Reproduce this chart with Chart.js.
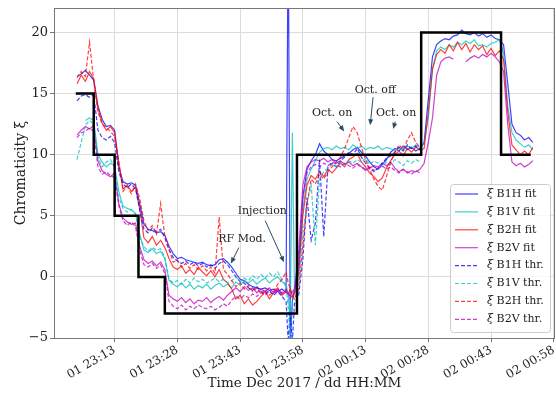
<!DOCTYPE html>
<html>
<head>
<meta charset="utf-8">
<script src="https://cdn.jsdelivr.net/npm/chart.js@4.4.0/dist/chart.umd.min.js"></script>
<style>
  html, body { margin: 0; padding: 0; background: #fff; }
  #wrap { width: 556px; height: 394px; }
</style>
</head>
<body>
<div id="wrap"><canvas id="chroma" width="556" height="394"></canvas></div>
<script>
// time axis: minutes since 01 Dec 2017 00:00
const times = [
  1384, 1385, 1386, 1387, 1388, 1389, 1390, 1391, 1392, 1393,
  1394, 1395, 1396, 1397, 1398, 1399, 1400, 1401, 1402, 1403,
  1404, 1405, 1406, 1407, 1408, 1409, 1410, 1411, 1412, 1413,
  1414, 1415, 1416, 1417, 1418, 1419, 1420, 1421, 1422, 1423,
  1424, 1425, 1426, 1427, 1428, 1429, 1430, 1431, 1432, 1433,
  1434, 1434.5, 1435, 1435.5, 1436, 1437, 1438, 1439, 1440, 1441,
  1442, 1443, 1444, 1445, 1446, 1447, 1448, 1449, 1450, 1451,
  1452, 1453, 1454, 1455, 1456, 1457, 1458, 1459, 1460, 1461,
  1462, 1463, 1464, 1465, 1466, 1467, 1468, 1469, 1470, 1471,
  1472, 1473, 1474, 1475, 1476, 1477, 1478, 1479, 1480, 1481,
  1482, 1483, 1484, 1485, 1486, 1487, 1488, 1489, 1490, 1491, 1492, 1493
];

const b1hFit = [
  16.4, 16.6, 16.9, 16.5, 16.1, 14.0, 12.9, 12.3, 12.4, 12.0,
  9.0, 7.8, 7.6, 7.7, 7.5, 6.0, 4.3, 3.9, 3.8, 3.6,
  3.7, 3.4, 2.5, 1.9, 1.5, 1.6, 1.4, 1.3, 1.2, 1.1,
  1.2, 1.0, 0.9, 1.0, 1.4, 1.5, 1.2, 0.8, 0.3, -0.2,
  -0.3, -0.6, -0.8, -0.9, -1.0, -0.9, -1.1, -1.0, -1.2, -1.0,
  -1.3, 30, -5.5, -2.0, -1.0, 1.0, 6.5, 8.8, 9.5, 10.0,
  10.9, 10.3, 10.0, 9.6, 9.5, 9.7, 9.9, 10.1, 10.4, 10.6,
  10.2, 9.9, 9.4, 9.0, 8.8, 9.2, 9.6, 10.2, 10.5, 10.3,
  10.7, 10.4, 10.6, 10.3, 10.5, 11.0, 14.5, 18.0, 19.0, 19.3,
  19.5, 19.4, 19.7, 19.8, 20.2, 19.9, 19.8, 20.0, 19.7, 19.9,
  19.6, 19.8, 19.5, 19.4, 19.0, 15.8, 12.5, 11.8, 11.6, 11.2, 11.4, 11.0
];
const b1vFit = [
  null, null, 12.8, 13.0, 12.8, 10.0, 9.4, 9.0, 9.3, 9.1,
  7.0, 5.8, 5.6, 5.5, 5.2, 3.5, 2.2, 2.0, 2.3, 1.9,
  2.1, 1.5, -0.3, -0.6, -0.8, -0.5, -0.9, -0.6, -1.0, -0.7,
  -0.9, -0.6, -1.0, -0.7, -0.5, -0.8, -0.6, -0.9, -0.4, -0.7,
  -0.3, -0.5, -0.2, -0.6, -0.3, -0.1, -0.5, -0.2, 0.0, -0.4,
  -0.6, -1.5, -3.5, 11.8, -1.0, 0.5, 5.5, 8.0, 8.8, 9.5,
  10.2, 10.5, 10.6, 10.4, 10.7, 10.5, 10.6, 10.4, 10.8, 10.5,
  10.7, 10.4, 10.6, 10.5, 10.7, 10.4, 10.6, 10.5, 10.3, 10.6,
  10.4, 10.7, 10.5, 10.8, 10.6, 10.9, 13.0, 17.0, 18.5, 18.8,
  18.6, 19.0, 18.8, 19.2, 19.0, 19.3, 19.1, 19.4, 18.9, 19.0,
  18.8, 19.1, 19.2, 19.4, 18.3, 14.0, 11.8, 11.2, 10.9, 10.6, 10.8, 10.4
];
const b2hFit = [
  15.8, 16.5, 16.0, 16.8, 16.2, 13.8, 12.6, 12.0, 12.3, 11.8,
  9.2, 7.2, 7.5, 7.0, 7.3, 5.6, 3.2, 2.8, 3.3, 2.6,
  3.0, 2.4, 1.5, 0.8, 0.6, 0.9, 0.3, 0.6, 0.2, 0.8,
  0.4, 0.1, 0.5, 0.0, 0.6, -0.2, -0.5, -1.0, -1.8, -1.5,
  -2.2, -1.8, -2.3, -2.0, -1.6, -1.2, -1.8, -1.3, -0.9, -1.5,
  -1.2, -1.4, -1.0, -1.6, -1.4, 0.2, 5.0, 7.5, 8.3, 8.0,
  8.6, 8.2, 8.8, 8.5, 8.9, 9.3, 9.0, 9.6, 9.8, 10.1,
  9.4, 9.0, 8.5, 8.2, 7.8, 8.1, 8.9, 9.5, 10.0, 10.3,
  9.9, 10.5, 10.2, 10.6, 10.4, 10.5, 13.5, 17.0, 18.2, 18.6,
  18.3, 19.0, 18.5, 19.2, 18.6, 19.1, 18.4, 19.0, 18.6, 18.9,
  18.2, 18.7, 18.1, 18.5, 17.8, 13.5, 10.8, 10.4, 10.0, 10.3, 10.0, 10.6
];
const b2vFit = [
  11.6, 12.0, 12.3, 12.1, 12.4, 9.5, 8.7, 8.4, 8.2, 8.5,
  6.0, 4.8, 4.5, 4.3, 4.4, 2.5, 1.4, 1.1, 1.3, 0.9,
  1.2, 0.6, -1.5, -1.8, -2.0, -1.7, -2.1, -1.8, -2.2, -1.9,
  -2.0, -1.7, -2.1, -1.8, -1.6, -1.9, -1.5, -1.2, -0.9, -1.2,
  -0.8, -1.1, -0.9, -1.3, -1.0, -1.2, -0.9, -1.3, -1.0, -1.4,
  -1.1, -1.3, -1.6, -1.2, -1.0, 2.0, 7.5, 9.0, 9.4, 9.6,
  9.5, 9.7, 9.4, 9.6, 9.3, 9.5, 9.2, 9.4, 9.1, 9.3,
  9.0, 8.7, 8.9, 9.1, 9.0, 9.3, 9.1, 9.4, 8.9, 8.6,
  8.8, 8.5, 8.7, 8.6, 8.8, 9.3, 11.0, 13.0, 16.5, 17.6,
  17.9, 18.0, 17.8, null, null, 17.6, 17.9, 18.1, 17.9, 18.2,
  18.0, 18.3, 18.0, 17.6, 16.8, 12.5, 9.4, 9.1, 9.3, 9.0, 9.2, 9.5
];
const b1hThr = [
  14.4, 14.8, 14.9, 14.7, 14.9, 12.0, 11.4, 11.2, 11.5, 11.0,
  8.6, 7.6, 7.3, 7.6, 7.2, 5.5, 3.9, 3.6, 4.0, 3.7,
  3.9, 3.2, 2.2, 1.6, 1.3, 1.1, 1.3, 1.0, 1.2, 0.9,
  1.1, 0.8, 1.0, 0.7, 1.1, 1.3, 1.0, 0.5, 0.0, -0.4,
  -0.5, -0.9, -1.1, -0.8, -1.2, -1.4, -1.1, -1.5, -1.2, -1.6,
  -2.0, -5.3, -3.0, -5.3, -2.2, -1.5, 1.4, 6.5, 3.0, 4.4,
  9.6, 3.3, 9.0, 9.3, 9.0, 9.5, 9.8, 10.2, 10.0, 10.5,
  9.8, 9.3, 8.9, 8.6, 8.9, 9.3, 9.7, 9.9, 10.2, 10.6,
  10.3, 10.8, 10.5, 10.7, 10.4, null, null, null, null, null,
  null, null, null, null, null, null, null, null, null, null,
  null, null, null, null, null, null, null, null, null, null, null, null
];
const b1vThr = [
  9.6, 11.0, 12.4, 12.8, 12.5, 9.8, 9.0, 9.4, 9.6, 9.0,
  6.5, 5.6, 5.3, 5.5, 5.1, 3.2, 2.5, 2.1, 2.4, 2.2,
  2.3, 1.6, -0.2, -0.5, -0.3, -0.6, -0.2, -0.5, -0.1, -0.4,
  -0.2, -0.5, -0.3, -0.1, -0.4, -0.2, -0.5, -0.3, 0.0, -0.4,
  -0.1, -0.3, 0.1, -0.2, 0.2, -0.1, 0.3, 0.0, 0.4, -0.2,
  -0.8, -2.5, -5.0, -2.0, -1.4, -0.5, 3.5, 6.0, 7.5, 2.6,
  8.0, 8.6, 8.9, 9.2, 9.0, 9.4, 9.2, 9.5, 9.3, 9.6,
  9.4, 9.7, 9.2, 9.5, 9.3, 9.0, 9.4, 9.2, 9.6, 9.4,
  9.1, 9.5, 9.3, 9.6, 9.4, null, null, null, null, null,
  null, null, null, null, null, null, null, null, null, null,
  null, null, null, null, null, null, null, null, null, null, null, null
];
const b2hThr = [
  16.3, 16.8, 16.4, 19.2, 16.0, 13.5, 12.5, 12.2, 11.9, 11.5,
  9.5, 7.0, 7.4, 6.8, 7.6, 6.4, 4.6, 3.8, 4.2, 3.5,
  6.0, 3.3, 2.3, 1.2, 1.4, 0.8, 1.1, 0.7, 1.0, 0.6,
  0.9, 0.5, 0.8, 0.3, 4.9, 0.6, 0.2, -0.3, -0.8, -0.5,
  -1.0, -0.7, -1.2, -0.9, -1.4, -1.0, -1.5, -1.2, -0.6, -0.2,
  0.4, -0.5, -1.0, -1.5, -1.8, -1.0, 2.5, 6.0, 8.0, 7.6,
  8.4, 8.0, 8.6, 9.0, 9.4, 9.8, 10.5, 11.4, 12.3, 11.8,
  10.6, 9.6, 8.8, 8.0, 7.4, 7.1, 8.2, 9.4, 10.2, 10.8,
  10.4, 11.2, 11.8, 11.0, 10.6, null, null, null, null, null,
  null, null, null, null, null, null, null, null, null, null,
  null, null, null, null, null, null, null, null, null, null, null, null
];
const b2vThr = [
  11.4, 11.8, 11.9, 12.2, 11.9, 9.0, 8.4, 8.6, 8.3, 8.1,
  5.8, 4.6, 4.2, 4.5, 4.1, 2.2, 1.0, 0.8, 1.1, 0.7,
  1.0, 0.3, -2.0, -2.4, -2.6, -2.3, -2.7, -2.4, -2.6, -2.3,
  -2.5, -2.6, -2.4, -2.7, -2.5, -2.2, -2.4, -1.9, -1.6, -1.8,
  -1.5, -1.7, -1.4, -1.6, -1.3, -1.5, -1.2, -1.4, -1.1, -1.3,
  -1.0, -1.4, -1.8, -1.5, -1.2, 0.5, 6.5, 8.5, 9.0, 9.2,
  9.0, 9.3, 9.1, 9.4, 9.2, 9.0, 9.3, 9.1, 8.9, 9.2,
  9.0, 8.8, 9.0, 8.7, 8.9, 9.1, 8.8, 9.0, 8.7, 8.5,
  8.8, 8.6, 8.4, 8.7, 8.5, null, null, null, null, null,
  null, null, null, null, null, null, null, null, null, null,
  null, null, null, null, null, null, null, null, null, null, null, null
];

// reference chromaticity settings (value holds from each time to the next)
const stepTimes = [1383.7, 1388, 1393, 1398.7, 1405, 1436.6, 1466.3, 1485.4, 1492.5];
const stepValues = [15, 10, 5, 0, -3, 10, 20, 10, 10];

const xTickValues = [1393, 1408, 1423, 1438, 1453, 1468, 1483, 1498];
const xTickLabels = ['01 23:13', '01 23:28', '01 23:43', '01 23:58', '02 00:13', '02 00:28', '02 00:43', '02 00:58'];
const yTickValues = [-5, 0, 5, 10, 15, 20];

const notes = [
  { text: 'RF Mod.',   tx: 1423.5, ty: 3.1,  ax: 1422.7, ay: 2.4,  hx: 1420.8, hy: 1.1 },
  { text: 'Injection', tx: 1428.3, ty: 5.4,  ax: 1429.0, ay: 4.6,  hx: 1433.5, hy: 1.2 },
  { text: 'Oct. on',   tx: 1445.0, ty: 13.4, ax: 1446.2, ay: 12.7, hx: 1447.9, hy: 11.9 },
  { text: 'Oct. off',  tx: 1455.3, ty: 15.3, ax: 1454.8, ay: 14.7, hx: 1454.1, hy: 12.4 },
  { text: 'Oct. on',   tx: 1460.3, ty: 13.4, ax: 1460.1, ay: 12.7, hx: 1459.6, hy: 12.1 }
];

const SERIF = '"DejaVu Serif", serif';

function pts(xs, ys) {
  return xs.map((x, i) => ({ x: x, y: ys[i] }));
}

function series(label, values, color, dashed) {
  return {
    label: label,
    data: pts(times, values),
    borderColor: color,
    borderWidth: 1.2,
    borderDash: dashed ? [4, 2] : [],
    pointRadius: 0,
    spanGaps: false,
    tension: 0
  };
}

const lineSets = [
  series('ξ B1H fit', b1hFit, 'rgba(0,0,255,0.75)', false),
  series('ξ B1V fit', b1vFit, 'rgba(0,191,191,0.75)', false),
  series('ξ B2H fit', b2hFit, 'rgba(255,0,0,0.75)', false),
  series('ξ B2V fit', b2vFit, 'rgba(191,0,191,0.75)', false),
  series('ξ B1H thr.', b1hThr, 'rgba(0,0,255,0.75)', true),
  series('ξ B1V thr.', b1vThr, 'rgba(0,191,191,0.75)', true),
  series('ξ B2H thr.', b2hThr, 'rgba(255,0,0,0.75)', true),
  series('ξ B2V thr.', b2vThr, 'rgba(191,0,191,0.75)', true)
];
// later series on top, like matplotlib
lineSets.forEach((d, i) => { d.order = 20 - i; });

const stepSet = {
  label: '',
  data: pts(stepTimes, stepValues),
  borderColor: '#000',
  borderWidth: 2.5,
  stepped: 'before',
  pointRadius: 0,
  order: 0
};

const frame = {
  id: 'frame',
  afterDatasetsDraw(chart) {
    const { ctx, chartArea: a } = chart;
    ctx.save();
    ctx.strokeStyle = '#777';
    ctx.lineWidth = 1;
    ctx.strokeRect(a.left + 0.5, a.top + 0.5, a.right - a.left - 1, a.bottom - a.top);
    ctx.restore();
  }
};

const arrows = {
  id: 'arrows',
  afterDatasetsDraw(chart) {
    const { ctx } = chart;
    const xs = chart.scales.x, ys = chart.scales.y;
    ctx.save();
    notes.forEach(n => {
      ctx.font = '11px ' + SERIF;
      ctx.fillStyle = '#222';
      ctx.textAlign = 'center';
      ctx.textBaseline = 'middle';
      ctx.fillText(n.text, xs.getPixelForValue(n.tx), ys.getPixelForValue(n.ty));
      const x1 = xs.getPixelForValue(n.ax), y1 = ys.getPixelForValue(n.ay);
      const x2 = xs.getPixelForValue(n.hx), y2 = ys.getPixelForValue(n.hy);
      const ang = Math.atan2(y2 - y1, x2 - x1);
      ctx.strokeStyle = '#2b4c66';
      ctx.fillStyle = '#2b4c66';
      ctx.lineWidth = 1;
      ctx.beginPath();
      ctx.moveTo(x1, y1);
      ctx.lineTo(x2 - 4 * Math.cos(ang), y2 - 4 * Math.sin(ang));
      ctx.stroke();
      ctx.beginPath();
      ctx.moveTo(x2, y2);
      ctx.lineTo(x2 - 6 * Math.cos(ang) + 2.5 * Math.sin(ang), y2 - 6 * Math.sin(ang) - 2.5 * Math.cos(ang));
      ctx.lineTo(x2 - 6 * Math.cos(ang) - 2.5 * Math.sin(ang), y2 - 6 * Math.sin(ang) + 2.5 * Math.cos(ang));
      ctx.closePath();
      ctx.fill();
    });
    ctx.restore();
  }
};

const legendBox = {
  id: 'legendBox',
  afterDraw(chart) {
    const { ctx, chartArea: a } = chart;
    const items = chart.data.datasets.filter(d => d.label);
    const rowH = 17.9;
    const w = 100, h = 148;
    const x0 = a.right - 5 - w, y0 = a.bottom - 6 - h;
    ctx.save();
    ctx.beginPath();
    ctx.roundRect(x0 + 0.5, y0 + 0.5, w, h, 3);
    ctx.fillStyle = 'rgba(255,255,255,0.8)';
    ctx.fill();
    ctx.strokeStyle = '#cccccc';
    ctx.lineWidth = 1;
    ctx.stroke();
    items.forEach((d, i) => {
      const cy = y0 + 10 + i * rowH;
      ctx.beginPath();
      ctx.setLineDash(d.borderDash);
      ctx.strokeStyle = d.borderColor;
      ctx.lineWidth = d.borderWidth;
      ctx.moveTo(x0 + 5, cy);
      ctx.lineTo(x0 + 28, cy);
      ctx.stroke();
      ctx.setLineDash([]);
      ctx.fillStyle = '#222';
      ctx.textAlign = 'left';
      ctx.textBaseline = 'middle';
      ctx.font = 'italic 11px ' + SERIF;
      const sym = d.label.charAt(0);
      ctx.fillText(sym, x0 + 37, cy);
      const sw = ctx.measureText(sym).width;
      ctx.font = '11px ' + SERIF;
      ctx.fillText(d.label.slice(1), x0 + 37 + sw, cy);
    });
    ctx.restore();
  }
};

new Chart(document.getElementById('chroma'), {
  type: 'line',
  data: { datasets: [stepSet].concat(lineSets) },
  options: {
    responsive: false,
    animation: false,
    events: [],
    layout: { padding: { top: 8, right: 1, left: 0, bottom: 0 } },
    plugins: { legend: { display: false }, tooltip: { enabled: false } },
    scales: {
      x: {
        type: 'linear',
        min: 1378.5,
        max: 1498.3,
        afterBuildTicks: s => { s.ticks = xTickValues.map(v => ({ value: v })); },
        afterFit: s => { s.height = 56; s.paddingLeft = 0; s.paddingRight = 0; },
        ticks: {
          autoSkip: false,
          minRotation: 30,
          maxRotation: 30,
          padding: 1,
          color: '#222',
          font: { family: SERIF, size: 12 },
          callback: (v) => xTickLabels[xTickValues.indexOf(v)]
        },
        grid: { color: '#dcdcdc', tickColor: '#777', tickLength: 4 },
        border: { display: false },
        title: {
          display: true,
          text: 'Time Dec 2017 / dd HH:MM',
          color: '#222',
          font: { family: SERIF, size: 13.5 },
          padding: { top: 0, bottom: 2 }
        }
      },
      y: {
        min: -5,
        max: 22,
        afterBuildTicks: s => { s.ticks = yTickValues.map(v => ({ value: v })); },
        afterFit: s => { s.width = 54; s.paddingTop = 0; s.paddingBottom = 0; },
        ticks: {
          padding: 2,
          color: '#222',
          font: { family: SERIF, size: 13 },
          callback: (v) => (v < 0 ? '\u2212' + Math.abs(v) : String(v))
        },
        grid: { color: '#dcdcdc', tickColor: '#777', tickLength: 4 },
        border: { display: false },
        title: {
          display: true,
          text: 'Chromaticity ξ',
          color: '#222',
          font: { family: SERIF, size: 14 },
          padding: { top: 13, bottom: 0 }
        }
      }
    }
  },
  plugins: [frame, arrows, legendBox]
});
</script>
</body>
</html>
